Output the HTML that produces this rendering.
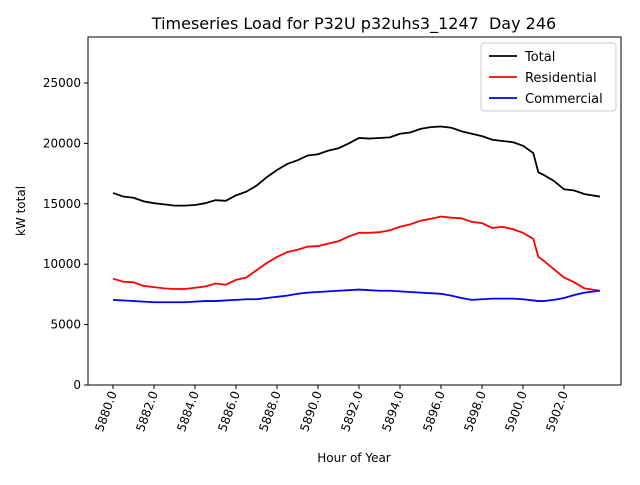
<!DOCTYPE html>
<html><head><meta charset="utf-8"><style>
body{margin:0;background:#fff;width:640px;height:480px;overflow:hidden}
text{font-family:"DejaVu Sans","Liberation Sans",sans-serif;fill:#000}
</style></head><body>
<svg id="chart" width="640" height="480" xmlns="http://www.w3.org/2000/svg">
<rect width="640" height="480" fill="#fff"/>
<text x="354" y="29" font-size="16" text-anchor="middle" xml:space="preserve">Timeseries Load for P32U p32uhs3_1247  Day 246</text>
<g id="plot"></g>
<text x="354" y="462" font-size="12" text-anchor="middle">Hour of Year</text>
<text transform="translate(25,211) rotate(-90)" font-size="12" text-anchor="middle">kW total</text>
<g>
<rect x="481" y="43" width="135" height="68" rx="3" fill="#fff" stroke="#ccc"/>
<line x1="489" y1="56" x2="517" y2="56" stroke="#000" stroke-width="1.8"/><text x="525" y="61" font-size="13">Total</text>
<line x1="489" y1="77" x2="517" y2="77" stroke="#f00" stroke-width="1.8"/><text x="525" y="82" font-size="13">Residential</text>
<line x1="489" y1="98" x2="517" y2="98" stroke="#00f" stroke-width="1.8"/><text x="525" y="103" font-size="13">Commercial</text>
</g>
</svg>
<script>
const hours=[5880,5880.5,5881,5881.5,5882,5882.5,5883,5883.5,5884,5884.5,5885,5885.5,5886,5886.5,5887,5887.5,5888,5888.5,5889,5889.5,5890,5890.5,5891,5891.5,5892,5892.5,5893,5893.5,5894,5894.5,5895,5895.5,5896,5896.5,5897,5897.5,5898,5898.5,5899,5899.5,5900,5900.5,5900.75,5901,5901.5,5902,5902.5,5903,5903.75];
const total=[15900,15600,15500,15200,15050,14950,14850,14850,14900,15050,15300,15250,15700,16000,16500,17200,17800,18300,18600,19000,19100,19400,19600,20000,20450,20400,20450,20500,20800,20900,21200,21350,21400,21300,21000,20800,20600,20300,20200,20100,19800,19200,17600,17400,16900,16200,16100,15800,15600];
const residential=[8800,8550,8500,8200,8100,8000,7950,7950,8050,8150,8400,8300,8700,8900,9500,10100,10600,11000,11200,11450,11500,11700,11900,12300,12600,12600,12650,12800,13100,13300,13600,13750,13950,13850,13800,13500,13400,13000,13100,12900,12600,12100,10600,10300,9600,8900,8500,8000,7800];
const commercial=[7050,7000,6950,6900,6850,6850,6850,6850,6900,6950,6950,7000,7050,7100,7100,7200,7300,7400,7550,7650,7700,7750,7800,7850,7900,7850,7800,7800,7750,7700,7650,7600,7550,7400,7200,7050,7100,7150,7150,7150,7100,7000,6950,6950,7050,7200,7450,7650,7800];
const xTicks=[5880,5882,5884,5886,5888,5890,5892,5894,5896,5898,5900,5902];
const yTicks=[0,5000,10000,15000,20000,25000];
const L=88,R=621,T=37,B=385,xMin=5878.78,xMax=5904.78,yMax=28808;
const xs=v=>L+(v-xMin)/(xMax-xMin)*(R-L);
const ys=v=>B-v/yMax*(B-T);
const NS="http://www.w3.org/2000/svg";
const g=document.getElementById('plot');
function mk(t,a){const e=document.createElementNS(NS,t);for(const k in a)e.setAttribute(k,a[k]);g.appendChild(e);return e;}
yTicks.forEach(v=>{
 const l=mk('line',{x1:L-4,x2:L,y1:ys(v),y2:ys(v),stroke:'#000'});
 
 
 const t=mk('text',{x:L-7,y:ys(v)+4,'font-size':12,'text-anchor':'end'});t.textContent=v;
 
 
});
xTicks.forEach(v=>{
 const x=xs(v);
 const l=mk('line',{x1:x,x2:x,y1:B,y2:B+4,stroke:'#000'});
 
 
 const t=mk('text',{transform:`translate(${x+4},${B+8}) rotate(-70)`,'font-size':12,'text-anchor':'end'});t.textContent=v.toFixed(1);
 
 
});
[[total,'#000','total-line'],[residential,'#f00','residential-line'],[commercial,'#00f','commercial-line']].forEach(([d,c,n])=>{
 const p=mk('polyline',{points:d.map((v,i)=>xs(hours[i])+','+ys(v)).join(' '),fill:'none',stroke:c,'stroke-width':1.8});
 
 
});
const f=mk('rect',{x:L,y:T,width:R-L,height:B-T,fill:'none',stroke:'#000','stroke-width':1});


</script>
</body></html>
